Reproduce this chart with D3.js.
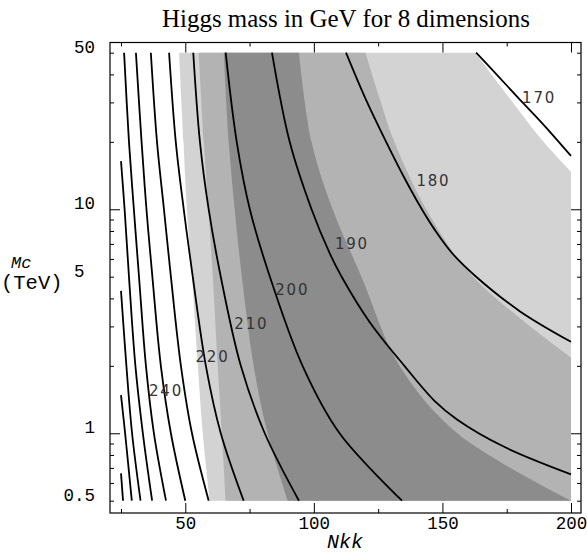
<!DOCTYPE html>
<html lang="en">
<head>
<meta charset="UTF-8">
<title>Higgs mass in GeV for 8 dimensions</title>
<script src="https://d3js.org/d3.v7.min.js"></script>
<style>
  body { margin: 0; background: #fff; }
  svg { display: block; }
  .tick text { white-space: pre; }
</style>
</head>
<body>
<script>
const width = 587, height = 554;

// contour lines, points are [Nkk, Mc (TeV)]
const c170 = [[163.1, 50], [171.3, 39.7], [179.4, 31.5], [189.1, 24], [200, 17.3]];
const c180 = [[112.5, 50], [119.9, 31.5], [128.1, 20], [135.8, 13.4], [142.0, 10], [147.1, 8.07], [153.7, 6.38], [163.1, 5], [180.2, 3.5], [200, 2.56]];
const c190 = [[83.7, 50], [90.6, 20], [99.1, 10], [106.1, 6.38], [110.8, 5], [121.6, 3.15], [135.2, 2], [146.8, 1.4], [155.8, 1.15], [174.0, 0.87], [200, 0.656]];
const c200 = [[65.7, 50], [70.0, 20], [75.1, 10], [82.9, 5], [95.6, 2], [110.0, 1], [134.3, 0.5]];
const c210 = [[53.1, 50], [55.7, 20], [59.1, 10], [63.8, 5], [71.6, 2], [80.9, 1], [94.2, 0.5]];
const c220 = [[43.7, 50], [46.3, 20], [49.4, 10], [52.9, 5], [58.0, 2], [63.8, 1], [72.7, 0.5]];
const c230 = [[36.6, 50], [39.0, 20], [41.7, 10], [44.4, 5], [48.3, 2], [52.6, 1], [59.1, 0.5]];
const c240 = [[30.8, 50], [33.0, 20], [34.9, 10], [37.2, 5], [40.5, 2], [44.4, 1], [50.0, 0.5]];
const c250 = [[26.2, 50], [28.1, 20], [30.0, 10], [32.0, 5], [34.7, 2], [37.8, 1], [42.5, 0.5]];
const c260 = [[25, 16.4], [26.4, 10], [28.1, 5], [30.6, 2], [33.5, 1], [37.1, 0.5]];
const c270 = [[25, 4.32], [27.1, 2], [29.3, 1], [32.6, 0.5]];
const c280 = [[25, 1.48], [26.6, 1], [29.2, 0.5]];
const c290 = [[25, 0.662], [25.8, 0.5]];

// labelled contours and where their labels sit
const labelText = ["170", "180", "190", "200", "210", "220", "240"];
const labelAt = [[187.6, 31.4], [146.5, 13.4], [114.8, 7.06], [91.6, 4.40], [75.7, 3.09], [60.6, 2.19], [42.5, 1.556]];

// edges of the shaded bands (outer light, middle, inner dark)
const lightLeft = [[47.6, 50], [49.3, 20], [50.6, 10], [52.6, 5], [54.9, 2], [56.8, 1], [59.5, 0.5]];
const lightRight = [[162.8, 50], [176.0, 31.5], [189.5, 19.9], [200, 14.7]];
const midLeft = [[55.2, 50], [57.2, 20], [59.0, 10], [60.7, 5], [62.6, 2], [64.2, 1], [65.7, 0.5]];
const midRight = [[120.1, 50], [125.5, 31.5], [131.3, 20], [143.7, 10], [161.9, 5], [200, 2.18]];
const darkLeft = [[65.0, 50], [66.9, 20], [69.2, 10], [72.0, 5], [76.6, 2], [82.0, 1], [89.8, 0.5]];
const darkRight = [[94.2, 50], [99.1, 20], [107.3, 10], [118.5, 5], [133.3, 2], [155.8, 1], [200, 0.5]];

// ticks
const xMajor = [50, 100, 150, 200];
const xMinor = [25, 75, 125, 175];
const yMajor = [1, 10];
const yMinor = [0.5, 0.6, 0.7, 0.8, 0.9, 2, 3, 4, 5, 6, 7, 8, 9, 20, 30, 40, 50];
const yLabelled = [0.5, 1, 5, 10, 50];
const yLabelText = ["0.5", "1", "5\u00a0", "10", "50"];

const frame = {left: 110, right: 581, top: 42.5, bottom: 513};

const x = d3.scaleLinear().domain([25, 200]).range([121, 571]);
const y = d3.scaleLog().domain([0.5, 50]).range([500.7, 52.7]);

const svg = d3.select("body").append("svg")
  .attr("width", width)
  .attr("height", height);

const curve = d3.line()
  .x(d => x(d[0]))
  .y(d => y(d[1]))
  .curve(d3.curveCatmullRom.alpha(0.5));

// band between a left edge and a right edge, closed along the bottom/right of the data box
function band(left, right) {
  const a = curve(left);
  const b = curve(right.slice().reverse()).replace(/^M/, "L");
  return a + "L" + x(200) + "," + y(0.5) + b + "Z";
}

svg.append("path").attr("d", band(lightLeft, lightRight)).attr("fill", "#d3d3d3");
svg.append("path").attr("d", band(midLeft, midRight)).attr("fill", "#b3b3b3");
svg.append("path").attr("d", band(darkLeft, darkRight)).attr("fill", "#8c8c8c");

const lines = [c170, c180, c190, c200, c210, c220, c230, c240, c250, c260, c270, c280, c290];
svg.append("g")
  .selectAll("path")
  .data(lines)
  .join("path")
  .attr("d", curve)
  .attr("fill", "none")
  .attr("stroke", "#000")
  .attr("stroke-width", 1.8);

svg.append("g")
  .selectAll("text")
  .data(labelText)
  .join("text")
  .attr("x", (d, i) => x(labelAt[i][0]))
  .attr("y", (d, i) => y(labelAt[i][1]))
  .attr("dy", "0.36em")
  .attr("text-anchor", "middle")
  .attr("font-family", "DejaVu Sans, sans-serif")
  .attr("font-size", 15)
  .attr("letter-spacing", 1.8)
  .attr("fill", "#333")
  .text(d => d);

// frame and ticks on all four sides, pointing in
function ticks(axis, values, size, tx, ty, labels) {
  const g = svg.append("g")
    .attr("transform", `translate(${tx},${ty})`)
    .call(axis.tickValues(values).tickSize(-size).tickSizeOuter(0)
      .tickFormat(labels ? labels : () => ""));
  g.select(".domain").remove();
  g.selectAll("line").attr("stroke", "#000").attr("stroke-width", 1);
  g.selectAll("text")
    .attr("font-family", "Liberation Mono, Courier New, monospace")
    .attr("font-size", 17.5)
    .attr("fill", "#000");
  return g;
}

ticks(d3.axisBottom(x).tickPadding(4), xMajor, 10, 0, frame.bottom, d => String(d));
ticks(d3.axisBottom(x), xMinor, 4, 0, frame.bottom);
ticks(d3.axisTop(x), xMajor, 10, 0, frame.top);
ticks(d3.axisTop(x), xMinor, 4, 0, frame.top);

const yl = ticks(d3.axisLeft(y).tickPadding(15), yLabelled, 0, frame.left, 0,
  d => yLabelText[yLabelled.indexOf(d)]);
yl.selectAll("text").attr("y", -6);
yl.selectAll("line").remove();
ticks(d3.axisLeft(y), yMajor, 10, frame.left, 0);
ticks(d3.axisLeft(y), yMinor, 4, frame.left, 0);
ticks(d3.axisRight(y), yMajor, 10, frame.right, 0);
ticks(d3.axisRight(y), yMinor, 4, frame.right, 0);

svg.append("rect")
  .attr("x", frame.left)
  .attr("y", frame.top)
  .attr("width", frame.right - frame.left)
  .attr("height", frame.bottom - frame.top)
  .attr("fill", "none")
  .attr("stroke", "#000")
  .attr("stroke-width", 1.2);

// title, scaled to the width it has in the picture
const title = svg.append("text")
  .attr("x", 346)
  .attr("y", 27)
  .attr("text-anchor", "middle")
  .attr("font-family", "Liberation Serif, Times New Roman, serif")
  .attr("font-size", 22)
  .text("Higgs mass in GeV for 8 dimensions");
const tw = title.node().getComputedTextLength();
title.attr("font-size", 22 * 368 / tw);

svg.append("text")
  .attr("x", 345)
  .attr("y", 548)
  .attr("text-anchor", "middle")
  .attr("font-family", "Liberation Mono, Courier New, monospace")
  .attr("font-style", "italic")
  .attr("font-size", 20)
  .text("Nkk");

svg.append("text")
  .attr("x", 11)
  .attr("y", 268)
  .attr("font-family", "Liberation Mono, Courier New, monospace")
  .attr("font-style", "italic")
  .attr("font-size", 17)
  .text("Mc");

svg.append("text")
  .attr("x", 1)
  .attr("y", 289)
  .attr("font-family", "Liberation Mono, Courier New, monospace")
  .attr("font-size", 20.5)
  .text("(TeV)");
</script>
</body>
</html>
